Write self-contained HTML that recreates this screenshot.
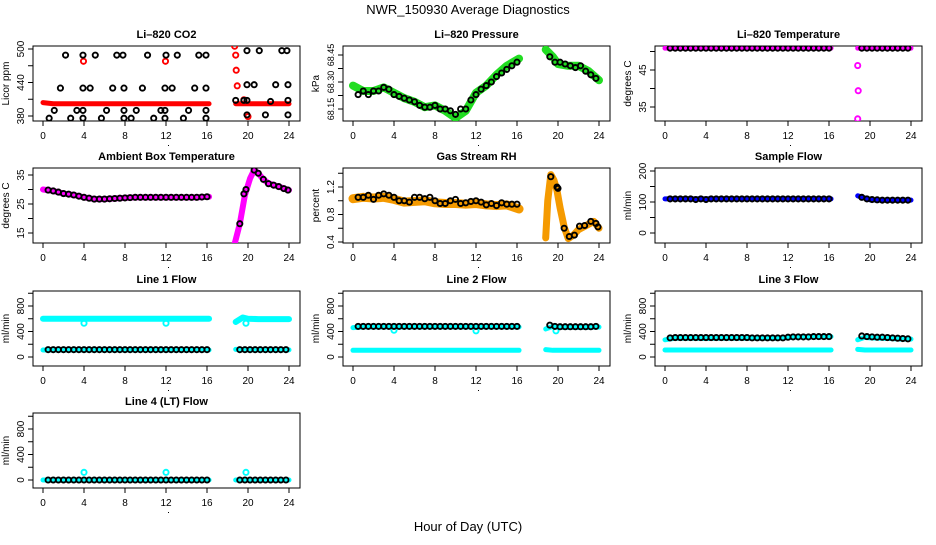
<!DOCTYPE html>
<html><head><meta charset="utf-8"><style>
body{margin:0;background:#fff;width:936px;height:540px;overflow:hidden}
svg text{font-family:"Liberation Sans",sans-serif;fill:#000}
</style></head><body>
<svg id="c" width="936" height="540" xmlns="http://www.w3.org/2000/svg">
<text x="468" y="14" text-anchor="middle" font-size="13">NWR_150930  Average Diagnostics</text>
<text x="468" y="531" text-anchor="middle" font-size="13">Hour of Day (UTC)</text>
</svg>
<script>
const xTicks=[0,4,8,12,16,20,24];
const hrsA=[0.5,1,1.5,2,2.5,3,3.5,4,4.5,5,5.5,6,6.5,7,7.5,8,8.5,9,9.5,10,10.5,11,11.5,12,12.5,13,13.5,14,14.5,15,15.5,16];
const hrsB=[19.2,19.7,20.2,20.7,21.2,21.7,22.2,22.7,23.2,23.7];
const bandA=[0,1,2,3,4,5,6,7,8,9,10,11,12,13,14,15,16.2];
const bandB=[18.8,19.5,20,21,22,23,24];
// CO2
const co2BandVals=[404,402,402,402,402,402,402,402,402,402,402,402,402,402,402,402,402];
const co2BandBVals=[402,402,402,402,402,402,402];
const co2RedH=[3.95,11.95,18.7,18.8,18.85,18.95,19.6,20];
const co2RedV=[478,478,505,489,462,434,409,379];
const co2BlkH=[2.2,3.9,5.1,7.2,7.8,10.2,12,13.1,15.2,15.9,19.9,21.1,23.3,23.8,1.7,3.9,4.6,6.8,7.9,9.7,11.9,12.6,14.8,15.9,19.9,20.6,22.7,23.9,1.1,3.3,3.9,6.2,7.9,9.1,11.5,11.9,14.2,15.9,18.8,19.6,19.9,22.2,23.9,0.6,2.7,3.9,5.7,7.9,8.6,10.8,11.9,13.7,15.9,19.9,21.7,23.9];
const co2BlkV=[489,489,489,489,489,489,489,489,489,489,497,497,497,497,430,430,430,430,430,430,430,430,430,430,436,436,436,436,390,390,390,390,390,390,390,390,390,390,408,408,408,406,408,376,376,376,376,376,376,376,376,376,376,382,382,382];
// Pressure
const presBandA=[68.28,68.25,68.25,68.27,68.24,68.21,68.19,68.16,68.17,68.14,68.10,68.14,68.24,68.28,68.34,68.39,68.43];
const presBandB=[68.48,68.44,68.40,68.39,68.39,68.36,68.31];
const presBlkA=[68.23,68.25,68.23,68.25,68.25,68.27,68.26,68.23,68.22,68.21,68.20,68.19,68.17,68.16,68.16,68.17,68.15,68.15,68.14,68.12,68.15,68.15,68.20,68.23,68.26,68.28,68.30,68.33,68.35,68.37,68.39,68.41];
const presBlkB=[68.44,68.41,68.41,68.40,68.39,68.38,68.39,68.36,68.34,68.32];
// Li-820 temperature
const ltBandA=[50.9,50.9,50.9,50.9,50.9,50.9,50.9,50.9,50.9,50.9,50.9,50.9,50.9,50.9,50.9,50.9,50.9];
const ltBandB=[50.9,50.9,50.9,50.9,50.9,50.9,50.9];
const ltOutH=[18.8,18.85,18.8];
const ltOutV=[46.2,39.4,31.8];
const ltBlkA=[50.9,50.9,50.9,50.9,50.9,50.9,50.9,50.9,50.9,50.9,50.9,50.9,50.9,50.9,50.9,50.9,50.9,50.9,50.9,50.9,50.9,50.9,50.9,50.9,50.9,50.9,50.9,50.9,50.9,50.9,50.9,50.9];
const ltBlkB=[50.9,50.9,50.9,50.9,50.9,50.9,50.9,50.9,50.9,50.9];
// Ambient
const ambBandA=[30,29.5,28.6,28.1,27.3,26.7,26.7,26.9,27.1,27.3,27.3,27.3,27.3,27.3,27.3,27.3,27.5];
const ambBH=[18.7,19.2,19.7,20.2,20.6,21,21.5,22,23,24];
const ambBandB=[11.3,18.2,28.1,33.8,36.7,35.6,33.5,32.1,31,29.8];
const ambBlkA=[29.8,29.5,29.1,28.6,28.4,28.1,27.7,27.3,27,26.7,26.7,26.7,26.8,26.9,27,27.1,27.2,27.3,27.3,27.3,27.3,27.3,27.3,27.3,27.3,27.3,27.3,27.3,27.3,27.3,27.4,27.5];
const ambBlkBH=[19.2,19.6,19.8,20.6,21,21.5,22,22.5,23,23.5,23.9];
const ambBlkB=[18.2,28.5,30,36.7,35.6,33.5,32,31.5,31,30.3,29.8];
// RH
const rhBandA=[1.03,1.05,1.04,1.05,1.02,0.98,0.99,1.0,0.97,0.96,0.96,0.95,0.96,0.94,0.93,0.94,0.88];
const rhBH=[18.8,19.0,19.3,19.6,19.9,20.2,20.6,21,21.5,22,23,23.5,24];
const rhBandB=[0.46,1.0,1.38,1.3,1.15,0.9,0.62,0.45,0.5,0.58,0.66,0.7,0.6];
const rhBlkA=[1.05,1.05,1.08,1.02,1.08,1.1,1.08,1.05,1.0,1.0,0.98,1.05,1.05,1.03,1.05,1.0,0.96,0.96,1.0,1.02,0.96,0.97,0.99,1.0,0.98,0.94,0.96,0.93,0.97,0.95,0.95,0.95];
const rhBlkBH=[19.3,19.9,20.0,20.6,21.1,21.6,22.1,22.6,23.2,23.7,23.9];
const rhBlkB=[1.35,1.2,1.18,0.6,0.48,0.5,0.63,0.64,0.7,0.67,0.62];
// Sample flow
const sfBandA=[110,110,110,110,110,110,110,110,110,110,110,110,110,110,110,110,110];
const sfBandB=[120,113,107,106,106,106,106];
const sfBlkA=[110,110,110,110,110,108,110,108,110,110,110,110,110,110,110,110,110,110,110,110,110,110,110,110,110,110,110,110,110,110,110,110];
const sfBlkB=[115,110,108,107,106,106,106,106,106,106];
// Line flows
const l1HiA=[600,600,600,600,600,600,600,600,600,600,600,600,600,600,600,600,600];
const l1HiB=[550,620,600,595,595,595,595];
const l1LoA=[110,110,110,110,110,110,110,110,110,110,110,110,110,110,110,110,110];
const l1LoB=[120,115,112,112,112,112,112];
const l1BlkA=[115,115,115,115,115,115,115,115,115,115,115,115,115,115,115,115,115,115,115,115,115,115,115,115,115,115,115,115,115,115,115,115];
const l1BlkB=[115,115,115,115,115,115,115,115,115,115];
const outH=[4,12,19.8];
const l1OutV=[530,530,530];
const l2HiA=[460,470,470,470,470,470,470,470,470,470,470,470,470,470,470,470,470];
const l2HiB=[440,480,465,465,465,465,470];
const l2LoA=[105,105,105,105,105,105,105,105,105,105,105,105,105,105,105,105,105];
const l2LoB=[115,105,105,105,105,105,105];
const l2OutV=[420,410,410];
const l2BlkA=[480,480,480,480,480,480,480,480,480,480,480,480,480,480,480,480,480,480,480,480,480,480,480,480,480,480,480,480,480,480,480,480];
const l2BlkB=[500,480,475,475,475,475,475,475,475,480];
const l3HiA=[270,295,295,295,290,295,295,295,295,295,295,295,305,315,320,320,320];
const l3HiB=[270,310,300,295,290,280,280];
const l3LoA=[110,110,110,110,110,110,110,110,110,110,110,110,110,110,110,110,110];
const l3LoB=[120,110,110,110,110,110,110];
const l3BlkA=[300,305,305,305,305,305,305,305,305,305,305,305,305,305,305,305,300,300,300,300,300,300,300,310,315,315,315,315,320,320,320,320];
const l3BlkB=[330,320,315,310,310,305,300,295,290,285];
const l4BandA=[0,0,0,0,0,0,0,0,0,0,0,0,0,0,0,0,0];
const l4BandB=[0,0,0,0,0,0,0];
const l4OutV=[120,120,120];
const l4BlkA=[0,0,0,0,0,0,0,0,0,0,0,0,0,0,0,0,0,0,0,0,0,0,0,0,0,0,0,0,0,0,0,0];
const l4BlkB=[0,0,0,0,0,0,0,0,0,0];

const NS='http://www.w3.org/2000/svg';
const svg=document.getElementById('c');
function mk(tag,attrs,parent){const e=document.createElementNS(NS,tag);for(const k in attrs)e.setAttribute(k,attrs[k]);(parent||svg).appendChild(e);return e;}
const colL=[33,343,655], rowT=[46,168,291,413], BW=267, BH=75;

function panel(cfg){
  const L=colL[cfg.col], T=rowT[cfg.row];
  const g=mk('g',{});
  
  
  const xs=h=>L+10+10.25*h;
  const k=(cfg.p2-cfg.p1)/(cfg.v2-cfg.v1);
  const ys=v=>cfg.p1+(v-cfg.v1)*k;
  const box=mk('rect',{x:L,y:T,width:BW,height:BH,fill:'none',stroke:'#000','stroke-width':1},g);
  
  
  const t=mk('text',{x:L+BW/2,y:T-8,'text-anchor':'middle','font-size':11,'font-weight':'bold'},g);
  t.textContent=cfg.title;
  
  
  const xa=mk('g',{},g);
  
  
  const by=T+BH;
  mk('line',{x1:xs(0),x2:xs(24),y1:by,y2:by,stroke:'#000'},xa);
  xTicks.forEach(v=>{
    mk('line',{x1:xs(v),x2:xs(v),y1:by,y2:by+5,stroke:'#000'},xa);
    const tx=mk('text',{x:xs(v),y:by+18,'text-anchor':'middle','font-size':10},xa);
    tx.textContent=v;
  });
  mk('rect',{x:xs(12)+2,y:by+24,width:1,height:1,fill:'#000'},xa);
  const ya=mk('g',{},g);
  
  
  const yt=cfg.yticks;
  mk('line',{x1:L,x2:L,y1:ys(yt[0]),y2:ys(yt[yt.length-1]),stroke:'#000'},ya);
  yt.forEach(v=>{mk('line',{x1:L,x2:L-5,y1:ys(v),y2:ys(v),stroke:'#000'},ya);});
  const fs=cfg.lfs||10;
  cfg.ylabels.forEach(v=>{
    const y=ys(v);
    const tx=mk('text',{x:L-9,y:y,'text-anchor':'middle','font-size':fs,transform:`rotate(-90 ${L-9} ${y})`},ya);
    tx.textContent=cfg.fmt?v.toFixed(cfg.fmt):v;
  });
  const yl=mk('text',{x:L-24,y:T+BH/2,'text-anchor':'middle','font-size':10,transform:`rotate(-90 ${L-24} ${T+BH/2})`},g);
  yl.textContent=cfg.ylab;
  
  
  const clip='clip-'+cfg.name;
  const cp=mk('clipPath',{id:clip},g);
  mk('rect',{x:L,y:T,width:BW,height:BH},cp);
  const dg=mk('g',{'clip-path':`url(#${clip})`},g);
  return {xs,ys,dg};
}
function band(p,hs,vs,color,name,w){
  const pts=hs.map((h,i)=>p.xs(h)+','+p.ys(vs[i])).join(' ');
  const pl=mk('polyline',{points:pts,fill:'none',stroke:color,'stroke-width':w||6,'stroke-linecap':'round','stroke-linejoin':'round'},p.dg);
  
  
}
function pts(p,hs,vs,color,name){
  const gg=mk('g',{},p.dg);
  
  
  hs.forEach((h,i)=>{mk('circle',{cx:p.xs(h),cy:p.ys(vs[i]),r:2.6,fill:'none',stroke:color,'stroke-width':1.9},gg);});
}

let p;
p=panel({name:'co2',title:'Li\u2013820 CO2',col:0,row:0,v1:500,p1:49,v2:380,p2:116,yticks:[380,410,440,470,500],ylabels:[380,440,500],ylab:'Licor ppm'});
band(p,bandA,co2BandVals,'#ff0000','co2-band-a',5);band(p,bandB,co2BandBVals,'#ff0000','co2-band-b',5);
pts(p,co2RedH,co2RedV,'#ff0000','co2-red-points');pts(p,co2BlkH,co2BlkV,'#000','co2-black-points');

p=panel({name:'pressure',title:'Li\u2013820 Pressure',col:1,row:0,v1:68.45,p1:55,v2:68.15,p2:109,yticks:[68.15,68.225,68.30,68.375,68.45],ylabels:[68.15,68.30,68.45],fmt:2,lfs:9,ylab:'kPa'});
band(p,bandA,presBandA,'#22dd22','pressure-band-a',8);band(p,bandB,presBandB,'#22dd22','pressure-band-b',8);
pts(p,hrsA,presBlkA,'#000','pressure-black-a');pts(p,hrsB,presBlkB,'#000','pressure-black-b');

p=panel({name:'li-temp',title:'Li\u2013820 Temperature',col:2,row:0,v1:45,p1:70,v2:35,p2:107,yticks:[35,40,45,50],ylabels:[35,45],ylab:'degrees C'});
band(p,bandA,ltBandA,'#ff00ff','li-temp-band-a',5);band(p,bandB,ltBandB,'#ff00ff','li-temp-band-b',5);
pts(p,ltOutH,ltOutV,'#ff00ff','li-temp-outliers');pts(p,hrsA,ltBlkA,'#000','li-temp-black-a');pts(p,hrsB,ltBlkB,'#000','li-temp-black-b');

p=panel({name:'ambient',title:'Ambient Box Temperature',col:0,row:1,v1:35,p1:175,v2:15,p2:233,yticks:[15,20,25,30,35],ylabels:[15,25,35],ylab:'degrees C'});
band(p,bandA,ambBandA,'#ff00ff','ambient-band-a',6);band(p,ambBH,ambBandB,'#ff00ff','ambient-band-b',6);
pts(p,hrsA,ambBlkA,'#000','ambient-black-a');pts(p,ambBlkBH,ambBlkB,'#000','ambient-black-b');

p=panel({name:'rh',title:'Gas Stream RH',col:1,row:1,v1:1.2,p1:187,v2:0.4,p2:242,yticks:[0.4,0.6,0.8,1.0,1.2,1.4],ylabels:[0.4,0.8,1.2],fmt:1,ylab:'percent'});
band(p,bandA,rhBandA,'#f59a00','rh-band-a',9);band(p,rhBH,rhBandB,'#f59a00','rh-band-b',7);
pts(p,hrsA,rhBlkA,'#000','rh-black-a');pts(p,rhBlkBH,rhBlkB,'#000','rh-black-b');

p=panel({name:'sample-flow',title:'Sample Flow',col:2,row:1,v1:200,p1:171,v2:0,p2:233,yticks:[0,50,100,150,200],ylabels:[0,100,200],ylab:'ml/min'});
band(p,bandA,sfBandA,'#0000ff','sample-band-a',5);band(p,bandB,sfBandB,'#0000ff','sample-band-b',5);
pts(p,hrsA,sfBlkA,'#000','sample-black-a');pts(p,hrsB,sfBlkB,'#000','sample-black-b');

const flowTicks=[0,200,400,600,800,1000], flowLabels=[0,400,800];
p=panel({name:'line1',title:'Line 1 Flow',col:0,row:2,v1:800,p1:306,v2:0,p2:357,yticks:flowTicks,ylabels:flowLabels,ylab:'ml/min'});
band(p,bandA,l1HiA,'#00ffff','line1-high-a',6);band(p,bandB,l1HiB,'#00ffff','line1-high-b',6);
band(p,bandA,l1LoA,'#00ffff','line1-low-a',5);band(p,bandB,l1LoB,'#00ffff','line1-low-b',5);
pts(p,outH,l1OutV,'#00ffff','line1-outliers');pts(p,hrsA,l1BlkA,'#000','line1-black-a');pts(p,hrsB,l1BlkB,'#000','line1-black-b');

p=panel({name:'line2',title:'Line 2 Flow',col:1,row:2,v1:800,p1:306,v2:0,p2:357,yticks:flowTicks,ylabels:flowLabels,ylab:'ml/min'});
band(p,bandA,l2HiA,'#00ffff','line2-high-a',5);band(p,bandB,l2HiB,'#00ffff','line2-high-b',5);
band(p,bandA,l2LoA,'#00ffff','line2-low-a',5);band(p,bandB,l2LoB,'#00ffff','line2-low-b',5);
pts(p,outH,l2OutV,'#00ffff','line2-outliers');pts(p,hrsA,l2BlkA,'#000','line2-black-a');pts(p,hrsB,l2BlkB,'#000','line2-black-b');

p=panel({name:'line3',title:'Line 3 Flow',col:2,row:2,v1:800,p1:306,v2:0,p2:357,yticks:flowTicks,ylabels:flowLabels,ylab:'ml/min'});
band(p,bandA,l3HiA,'#00ffff','line3-high-a',5);band(p,bandB,l3HiB,'#00ffff','line3-high-b',5);
band(p,bandA,l3LoA,'#00ffff','line3-low-a',5);band(p,bandB,l3LoB,'#00ffff','line3-low-b',5);
pts(p,hrsA,l3BlkA,'#000','line3-black-a');pts(p,hrsB,l3BlkB,'#000','line3-black-b');

p=panel({name:'line4',title:'Line 4 (LT) Flow',col:0,row:3,v1:800,p1:429,v2:0,p2:480,yticks:flowTicks,ylabels:flowLabels,ylab:'ml/min'});
band(p,bandA,l4BandA,'#00ffff','line4-band-a',5);band(p,bandB,l4BandB,'#00ffff','line4-band-b',5);
pts(p,outH,l4OutV,'#00ffff','line4-outliers');pts(p,hrsA,l4BlkA,'#000','line4-black-a');pts(p,hrsB,l4BlkB,'#000','line4-black-b');
</script>
</body></html>
